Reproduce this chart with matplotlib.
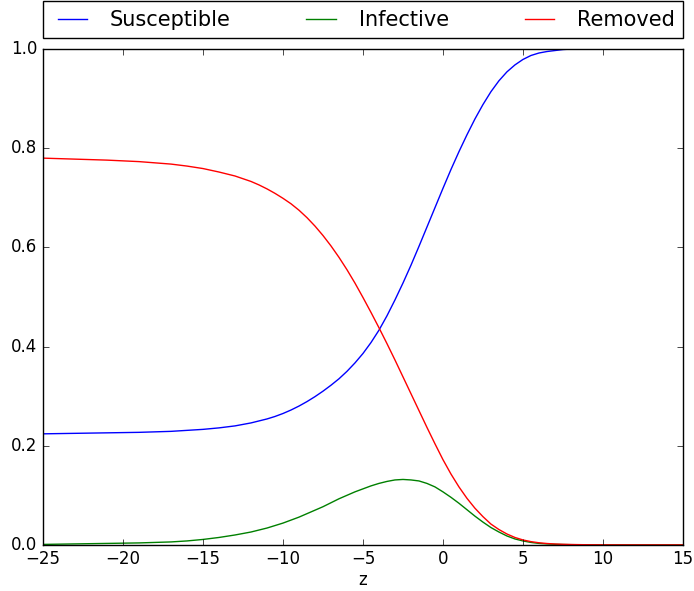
import matplotlib
matplotlib.use('Agg')
import matplotlib.pyplot as plt

# travelling coordinate
z = [-25, -23, -21, -19, -17, -16, -15, -14, -13, -12, -11.5, -11, -10.5, -10,
     -9.5, -9, -8.5, -8, -7.5, -7, -6.5, -6, -5.5, -5, -4.5, -4, -3.5, -3,
     -2.5, -2, -1.5, -1, -0.5, 0, 0.5, 1, 1.5, 2, 2.5, 3, 3.5, 4, 4.5, 5,
     5.5, 6, 6.5, 7, 7.5, 8, 9, 10, 12, 15]

susceptible = [0.224, 0.225, 0.226, 0.227, 0.229, 0.231, 0.233, 0.236, 0.240,
               0.246, 0.250, 0.254, 0.259, 0.265, 0.272, 0.280, 0.289, 0.299,
               0.310, 0.322, 0.335, 0.350, 0.367, 0.386, 0.408, 0.433, 0.462,
               0.494, 0.528, 0.564, 0.602, 0.641, 0.680, 0.719, 0.757, 0.793,
               0.827, 0.859, 0.888, 0.914, 0.936, 0.954, 0.968, 0.979, 0.987,
               0.992, 0.995, 0.997, 0.999, 1.0, 1.0, 1.0, 1.0, 1.0]

infective = [0.001, 0.002, 0.003, 0.004, 0.006, 0.008, 0.011, 0.015, 0.020,
             0.026, 0.030, 0.034, 0.039, 0.044, 0.050, 0.056, 0.063, 0.070,
             0.077, 0.085, 0.093, 0.100, 0.107, 0.113, 0.119, 0.124, 0.128,
             0.131, 0.132, 0.131, 0.129, 0.124, 0.117, 0.107, 0.096, 0.084,
             0.071, 0.058, 0.046, 0.035, 0.026, 0.018, 0.012, 0.008, 0.005,
             0.003, 0.002, 0.0012, 0.0008, 0.0005, 0.0002, 0.0001, 0.0, 0.0]

removed = [0.780, 0.778, 0.776, 0.773, 0.768, 0.764, 0.759, 0.752, 0.744,
           0.733, 0.726, 0.718, 0.709, 0.699, 0.688, 0.675, 0.660, 0.643,
           0.624, 0.603, 0.580, 0.555, 0.528, 0.499, 0.469, 0.438, 0.406,
           0.373, 0.339, 0.305, 0.271, 0.237, 0.204, 0.172, 0.143, 0.117,
           0.094, 0.074, 0.057, 0.042, 0.031, 0.022, 0.015, 0.010, 0.0066,
           0.0043, 0.0028, 0.0018, 0.0012, 0.0008, 0.0003, 0.0001, 0.0, 0.0]

plt.style.use('classic')
fig = plt.figure(figsize=(6.94, 5.91), dpi=100, facecolor='white')
ax = fig.add_axes([0.062, 0.078, 0.922, 0.839])

ax.plot(z, susceptible, 'b', label='Susceptible')
ax.plot(z, infective, 'g', label='Infective')
ax.plot(z, removed, 'r', label='Removed')

ax.set_xlim(-25, 15)
ax.set_ylim(0, 1)
ax.set_xlabel('z', labelpad=2)
ax.legend(bbox_to_anchor=(0., 1.022, 1., .102), loc='lower left', ncol=3,
          mode='expand', borderaxespad=0., fontsize=15)

fig.savefig('out.png', dpi=100, facecolor='white')
